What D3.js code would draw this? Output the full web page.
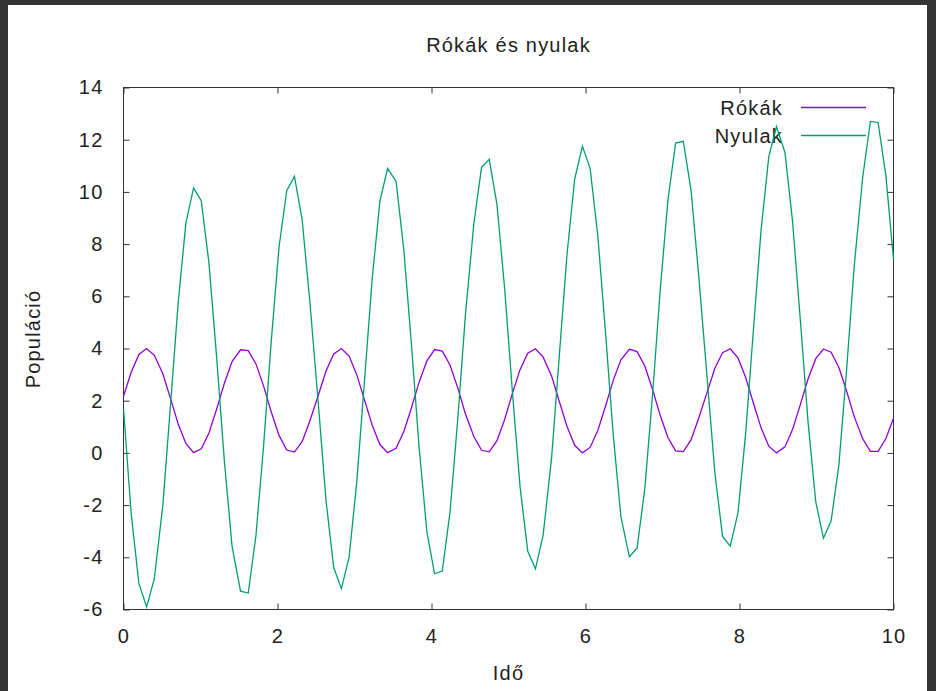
<!DOCTYPE html>
<html>
<head>
<meta charset="utf-8">
<style>
  body { margin: 0; background: #333; }
  svg text { font-family: "Liberation Sans", Arial, sans-serif; fill: #222; letter-spacing: 1.2px; }
</style>
</head>
<body>
<svg class="chart"></svg>
<script src="https://d3js.org/d3.v7.min.js"></script>
<script>
// sample times (Idő), 100 samples over 0..10
const ido = [
  0.00, 0.10, 0.20, 0.30, 0.40, 0.51, 0.61, 0.71, 0.81, 0.91,
  1.01, 1.11, 1.21, 1.31, 1.41, 1.52, 1.62, 1.72, 1.82, 1.92,
  2.02, 2.12, 2.22, 2.32, 2.42, 2.53, 2.63, 2.73, 2.83, 2.93,
  3.03, 3.13, 3.23, 3.33, 3.43, 3.54, 3.64, 3.74, 3.84, 3.94,
  4.04, 4.14, 4.24, 4.34, 4.44, 4.55, 4.65, 4.75, 4.85, 4.95,
  5.05, 5.15, 5.25, 5.35, 5.45, 5.56, 5.66, 5.76, 5.86, 5.96,
  6.06, 6.16, 6.26, 6.36, 6.46, 6.57, 6.67, 6.77, 6.87, 6.97,
  7.07, 7.17, 7.27, 7.37, 7.47, 7.58, 7.68, 7.78, 7.88, 7.98,
  8.08, 8.18, 8.28, 8.38, 8.48, 8.59, 8.69, 8.79, 8.89, 8.99,
  9.09, 9.19, 9.29, 9.39, 9.49, 9.60, 9.70, 9.80, 9.90, 10.00
];

// Rókák (foxes)
const rokak = [
  2.17, 3.09, 3.77, 4.00, 3.74, 3.04, 2.09, 1.11, 0.36, 0.01,
  0.16, 0.76, 1.68, 2.67, 3.50, 3.95, 3.92, 3.41, 2.56, 1.56,
  0.67, 0.11, 0.03, 0.43, 1.22, 2.21, 3.14, 3.79, 4.00, 3.71,
  2.99, 2.03, 1.06, 0.32, 0.01, 0.18, 0.81, 1.73, 2.72, 3.53,
  3.96, 3.90, 3.37, 2.50, 1.50, 0.63, 0.10, 0.04, 0.47, 1.28,
  2.27, 3.19, 3.82, 3.99, 3.67, 2.94, 1.97, 1.01, 0.29, 0.00,
  0.21, 0.86, 1.79, 2.78, 3.57, 3.97, 3.88, 3.33, 2.44, 1.44,
  0.59, 0.08, 0.05, 0.50, 1.33, 2.33, 3.24, 3.84, 3.99, 3.64,
  2.89, 1.91, 0.96, 0.26, 0.00, 0.23, 0.91, 1.85, 2.83, 3.61,
  3.98, 3.86, 3.28, 2.38, 1.39, 0.54, 0.06, 0.06, 0.54, 1.33
];

// Nyulak (rabbits)
const nyulak = [
  1.70, -2.34, -5.00, -5.90, -4.83, -2.03, 1.82, 5.75, 8.80, 10.15,
  9.66, 7.27, 3.65, -0.31, -3.58, -5.30, -5.37, -3.17, 0.30, 4.32,
  7.89, 10.05, 10.59, 8.94, 5.80, 1.89, -1.82, -4.39, -5.20, -3.99,
  -1.10, 2.77, 6.68, 9.65, 10.90, 10.40, 7.80, 4.13, 0.19, -3.02,
  -4.63, -4.53, -2.28, 1.25, 5.27, 8.79, 10.94, 11.25, 9.52, 6.30,
  2.37, -1.29, -3.77, -4.44, -3.15, -0.18, 3.73, 7.61, 10.50, 11.75,
  10.90, 8.32, 4.61, 0.69, -2.45, -3.98, -3.64, -1.38, 2.20, 6.22,
  9.68, 11.87, 11.94, 10.08, 6.80, 2.86, -0.76, -3.20, -3.57, -2.30,
  0.75, 4.69, 8.53, 11.34, 12.50, 11.51, 8.85, 5.09, 1.20, -1.87,
  -3.27, -2.60, -0.48, 3.15, 7.16, 10.56, 12.70, 12.66, 10.64, 7.43
];

const xTicks = [0, 2, 4, 6, 8, 10];
const yTicks = [-6, -4, -2, 0, 2, 4, 6, 8, 10, 12, 14];

let width = 936, height = 691;
let plot = {left: 123.5, right: 893.5, top: 87.5, bottom: 609.5};

let svg = d3.select(".chart")
    .attr("width", width)
    .attr("height", height)
    .style("display", "block");

// dark outer frame, white page
svg.append("rect").attr("width", width).attr("height", height).attr("fill", "#333");
svg.append("rect").attr("x", 8).attr("y", 5).attr("width", 919).attr("height", height - 5).attr("fill", "#fff");

let x = d3.scaleLinear().domain([0, 10]).range([plot.left, plot.right]);
let y = d3.scaleLinear().domain([-6, 14]).range([plot.bottom, plot.top]);

// plain hyphen for negatives, like gnuplot
let fmt = d => String(d);

function styleAxis(g) {
    g.select(".domain").remove();
    g.attr("font-size", 20)
     .attr("font-family", "Liberation Sans, Arial, sans-serif")
     .attr("color", "#333");
    g.selectAll("text").attr("fill", "#222");
}

// ticks point inwards on all four sides (gnuplot style)
svg.append("g")
    .attr("transform", "translate(" + plot.left + ",0)")
    .call(d3.axisLeft(y).tickValues(yTicks).tickFormat(fmt).tickSize(-6).tickPadding(20))
    .call(styleAxis);

svg.append("g")
    .attr("transform", "translate(" + plot.right + ",0)")
    .call(d3.axisRight(y).tickValues(yTicks).tickSize(-6).tickFormat(""))
    .call(styleAxis);

svg.append("g")
    .attr("transform", "translate(0," + plot.bottom + ")")
    .call(d3.axisBottom(x).tickValues(xTicks).tickFormat(fmt).tickSize(-6).tickPadding(19))
    .call(styleAxis);

svg.append("g")
    .attr("transform", "translate(0," + plot.top + ")")
    .call(d3.axisTop(x).tickValues(xTicks).tickSize(-6).tickFormat(""))
    .call(styleAxis);

svg.append("rect")
    .attr("x", plot.left).attr("y", plot.top)
    .attr("width", plot.right - plot.left).attr("height", plot.bottom - plot.top)
    .attr("fill", "none").attr("stroke", "#333").attr("stroke-width", 1);

// titles
svg.append("text")
    .attr("x", (plot.left + plot.right) / 2).attr("y", 52)
    .attr("text-anchor", "middle").attr("font-size", 20)
    .text("Rókák és nyulak");

svg.append("text")
    .attr("x", (plot.left + plot.right) / 2).attr("y", 680)
    .attr("text-anchor", "middle").attr("font-size", 20)
    .text("Idő");

svg.append("text")
    .attr("transform", "translate(40,339) rotate(-90)")
    .attr("text-anchor", "middle").attr("font-size", 20)
    .text("Populáció");

// series + key
let series = [
    {name: "Rókák", values: rokak, color: "#9400d3", keyY: 107.5},
    {name: "Nyulak", values: nyulak, color: "#009e73", keyY: 135.5}
];

let line = d3.line()
    .x(d => x(d[0]))
    .y(d => y(d[1]));

series.forEach(s => {
    svg.append("text")
        .attr("x", 783).attr("y", s.keyY + 7)
        .attr("text-anchor", "end").attr("font-size", 20)
        .text(s.name);
    svg.append("line")
        .attr("x1", 801).attr("x2", 866)
        .attr("y1", s.keyY).attr("y2", s.keyY)
        .attr("stroke", s.color).attr("stroke-width", 1.3);
    svg.append("path")
        .datum(d3.zip(ido, s.values))
        .attr("fill", "none")
        .attr("stroke", s.color)
        .attr("stroke-width", 1.3)
        .attr("d", line);
});
</script>
</body>
</html>
